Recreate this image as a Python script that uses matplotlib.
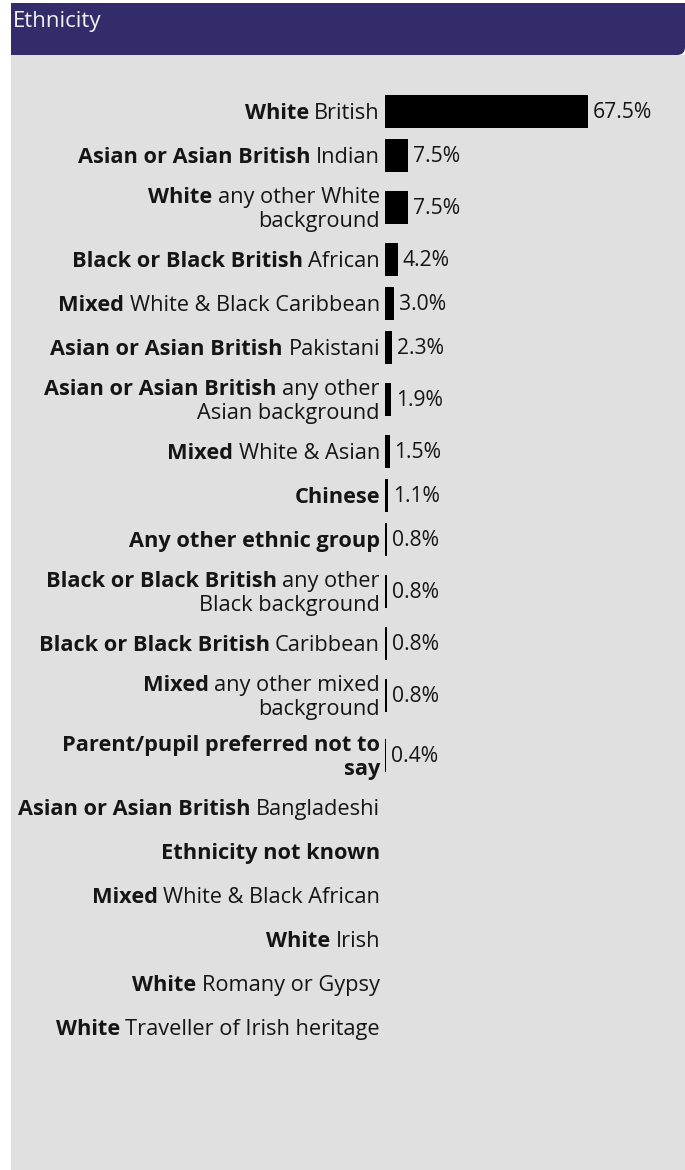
"""Ethnicity breakdown: horizontal bar chart with a header strip."""

import matplotlib

matplotlib.use("Agg")
import matplotlib.pyplot as plt
from matplotlib.patches import PathPatch, Rectangle
from matplotlib.path import Path

# --- data -------------------------------------------------------------------
label_bold = [
    "White",
    "Asian or Asian British",
    "White",
    "Black or Black British",
    "Mixed",
    "Asian or Asian British",
    "Asian or Asian British",
    "Mixed",
    "Chinese",
    "Any other ethnic group",
    "Black or Black British",
    "Black or Black British",
    "Mixed",
    "Parent/pupil preferred not to\nsay",
    "Asian or Asian British",
    "Ethnicity not known",
    "Mixed",
    "White",
    "White",
    "White",
]
label_rest = [
    "British",
    "Indian",
    "any other White\nbackground",
    "African",
    "White & Black Caribbean",
    "Pakistani",
    "any other\nAsian background",
    "White & Asian",
    "",
    "",
    "any other\nBlack background",
    "Caribbean",
    "any other mixed\nbackground",
    "",
    "Bangladeshi",
    "",
    "White & Black African",
    "Irish",
    "Romany or Gypsy",
    "Traveller of Irish heritage",
]
percent = [67.5, 7.5, 7.5, 4.2, 3.0, 2.3, 1.9, 1.5, 1.1, 0.8,
           0.8, 0.8, 0.8, 0.4, 0, 0, 0, 0, 0, 0]
title = "Ethnicity"

# --- layout (pixels) --------------------------------------------------------
W, H = 685, 1170
HEADER_COLOR = "#332c6b"
BG_COLOR = "#e0e0e0"
TEXT_COLOR = "#151515"
FONT = ["Open Sans", "DejaVu Sans"]
FS = 15.7
FS_VALUE = 15.2
BAR_X0 = 385
LABEL_X = 380
FIRST_ROW = 111
ROW_SINGLE, ROW_DOUBLE = 44, 60
LINE_GAP = 24
TEXT_DY = 2.5
BAR_H = 33
SPACE = 5.5


def split_lines(bold, rest):
    lines = [[]]
    for text, weight in ((bold, "bold"), (rest, "normal")):
        for k, part in enumerate(text.split("\n")):
            if k > 0:
                lines.append([])
            if part:
                lines[-1].append((part, weight))
    return lines


rows = [split_lines(b, r) for b, r in zip(label_bold, label_rest)]
heights = [ROW_DOUBLE if len(lines) > 1 else ROW_SINGLE for lines in rows]
centers = []
y = FIRST_ROW
for i, h in enumerate(heights):
    if i > 0:
        y += heights[i - 1] / 2 + h / 2
    centers.append(y)

fig = plt.figure(figsize=(W / 100, H / 100), dpi=100, facecolor="white")
canvas = fig.add_axes([0, 0, 1, 1])
canvas.set_xlim(0, W)
canvas.set_ylim(H, 0)
canvas.axis("off")

# background + header with rounded bottom-right corner
canvas.add_patch(Rectangle((11, 55), W - 11, H - 55, color=BG_COLOR, lw=0))
r = 8
verts = [(11, 3), (W, 3), (W, 55 - r), (W, 55), (W - r, 55), (11, 55), (11, 3)]
codes = [Path.MOVETO, Path.LINETO, Path.LINETO, Path.CURVE3, Path.CURVE3,
         Path.LINETO, Path.CLOSEPOLY]
canvas.add_patch(PathPatch(Path(verts, codes), color=HEADER_COLOR, lw=0))
canvas.text(12.5, 21.5, title, color="#f2f2f2", fontsize=16, family=FONT,
            ha="left", va="center")

# category labels, bold lead + regular tail, right aligned
renderer = fig.canvas.get_renderer()
for lines, yc in zip(rows, centers):
    n = len(lines)
    for j, line in enumerate(lines):
        yl = yc + TEXT_DY + (j - (n - 1) / 2) * LINE_GAP
        x = LABEL_X
        for text, weight in reversed(line):
            t = canvas.text(x, yl, text, ha="right", va="center", fontsize=FS,
                            fontweight=weight, family=FONT, color=TEXT_COLOR)
            x -= t.get_window_extent(renderer).width + SPACE

# bars
ax = fig.add_axes([BAR_X0 / W, 0, (W - BAR_X0) / W, 1])
ax.set_xlim(0, (W - BAR_X0) / 3.0)
ax.set_ylim(H, 0)
ax.axis("off")
ax.patch.set_alpha(0)
ax.barh(centers, percent, height=BAR_H, color="black", lw=0)
for v, yc in zip(percent, centers):
    if v > 0:
        ax.annotate(f"{v:.1f}%", (v, yc), xytext=(3.6, -1.0),
                    textcoords="offset points", ha="left", va="center",
                    fontsize=FS_VALUE, family=FONT, color=TEXT_COLOR)

fig.savefig("out.png", dpi=100, facecolor="white")
